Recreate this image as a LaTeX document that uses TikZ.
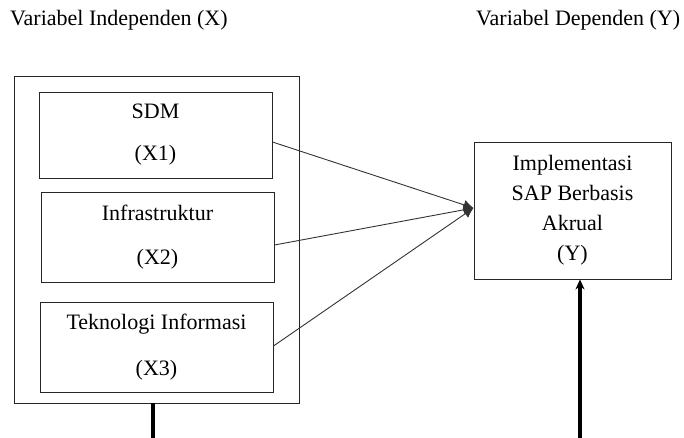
\documentclass[tikz,border=0pt]{standalone}
\usepackage{fontspec}
\setmainfont{Liberation Serif}
\usetikzlibrary{arrows.meta}
\begin{document}
\begin{tikzpicture}[x=1pt,y=-1pt,
  box/.style={draw=black!85,line width=0.9pt,inner sep=0pt,align=center},
  lbl/.style={inner sep=0pt,anchor=west,font=\fontsize{22}{26}\selectfont},
  link/.style={draw=black!80,line width=0.9pt,-{Latex[length=10pt,width=10pt]}},
  thick line/.style={draw=black,line width=3.2pt}]
\useasboundingbox (0,0) rectangle (684,438);
\node[lbl] (hx) at (10,20) {Variabel Independen (X)};
\node[lbl] (hy) at (476,20) {Variabel Dependen (Y)};
\node[box,minimum width=285pt,minimum height=327pt] (outer) at (156.5,239.5) {};
\node[box,minimum width=233pt,minimum height=86pt,font=\fontsize{22}{42}\selectfont] (sdm) at (155.5,135) {SDM\\(X1)};
\node[box,minimum width=233pt,minimum height=90pt,font=\fontsize{22}{44}\selectfont] (infra) at (157.5,237) {Infrastruktur\\(X2)};
\node[box,minimum width=233pt,minimum height=90pt,font=\fontsize{22}{46}\selectfont] (tek) at (156.5,347) {Teknologi Informasi\\(X3)};
\node[box,minimum width=197pt,minimum height=137pt,font=\fontsize{22}{30}\selectfont] (yb) at (572.5,210.5) {Implementasi\\SAP Berbasis\\Akrual\\(Y)};
\coordinate (tgt) at ([yshift=2.5pt]yb.west);
\draw[link] ([yshift=-7pt]sdm.east) -- (tgt);
\draw[link] ([yshift=-8pt]infra.east) -- (tgt);
\draw[link] ([yshift=1pt]tek.east) -- (tgt);
\coordinate (lb) at (153,438);
\coordinate (rb) at (580,438);
\draw[thick line] ([xshift=-3.5pt]outer.south) -- (lb);
\draw[thick line,-{Stealth[length=10pt,width=9pt]}] (rb) -- ([xshift=7.5pt]yb.south);
\end{tikzpicture}
\end{document}
